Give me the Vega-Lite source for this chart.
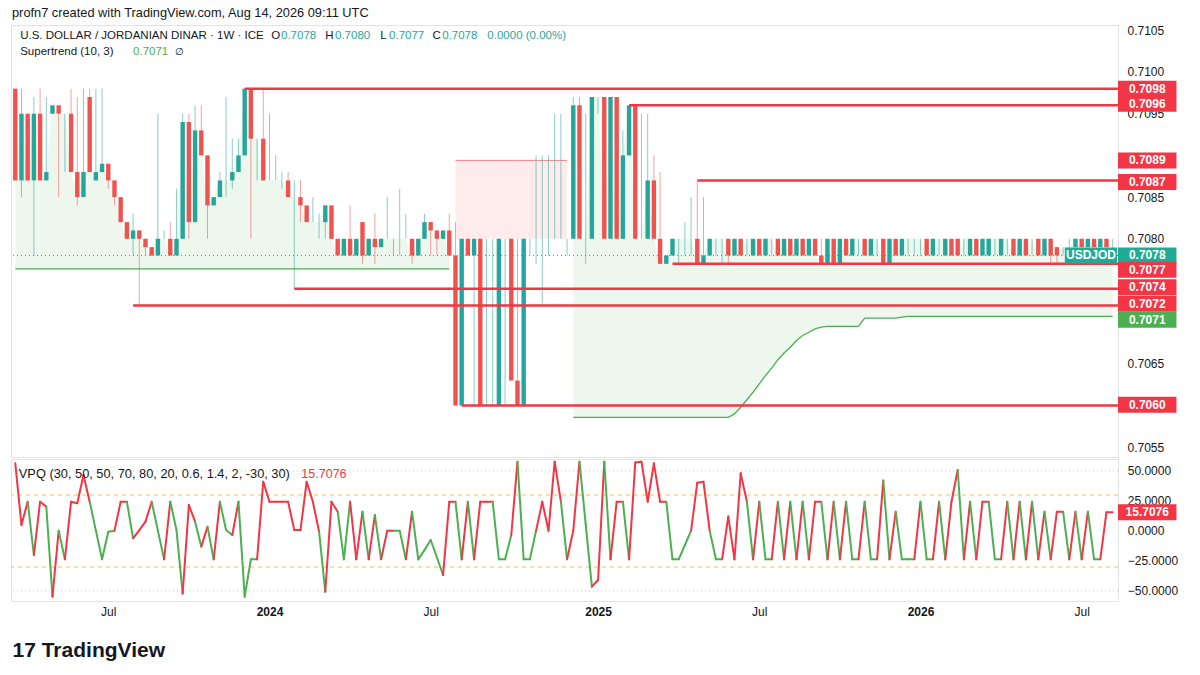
{
  "$schema": "https://vega.github.io/schema/vega-lite/v6.json",
  "background": "white",
  "padding": {"left": 10, "top": 6, "right": 0, "bottom": 0},
  "title": {"text": "profn7 created with TradingView.com, Aug 14, 2026 09:11 UTC", "anchor": "start", "fontSize": 12.8, "fontWeight": "normal", "color": "#131722", "offset": 4, "dx": 2},
  "spacing": 0,
  "data": {
    "format": {"parse": {"d": "date"}},
    "values": [
      {"d":"2023-03-20","o":0.7098,"h":0.7098,"l":0.7087,"c":0.7087,"v":56.4,"vc":"r","up":0.70764},
      {"d":"2023-03-27","o":0.7087,"h":0.7098,"l":0.7085,"c":0.7095,"v":5.0,"vc":"r","up":0.70764},
      {"d":"2023-04-03","o":0.7095,"h":0.7095,"l":0.7087,"c":0.7087,"v":24.4,"vc":"r","up":0.70764},
      {"d":"2023-04-10","o":0.7087,"h":0.7097,"l":0.7078,"c":0.7095,"v":-20.0,"vc":"g","up":0.70764},
      {"d":"2023-04-17","o":0.7095,"h":0.7098,"l":0.7087,"c":0.7087,"v":24.4,"vc":"r","up":0.70764},
      {"d":"2023-04-24","o":0.7087,"h":0.7097,"l":0.7087,"c":0.7088,"v":20.3,"vc":"r","up":0.70764},
      {"d":"2023-05-01","o":0.7095,"h":0.7096,"l":0.7095,"c":0.7096,"v":-54.7,"vc":"g","up":0.70764},
      {"d":"2023-05-08","o":0.7096,"h":0.7096,"l":0.7085,"c":0.7095,"v":0.3,"vc":"r","up":0.70764},
      {"d":"2023-05-15","o":0.7095,"h":0.7095,"l":0.7088,"c":0.7095,"v":-23.6,"vc":"g","up":0.70764},
      {"d":"2023-05-22","o":0.7095,"h":0.7098,"l":0.7088,"c":0.7088,"v":24.4,"vc":"r","up":0.70764},
      {"d":"2023-05-29","o":0.7088,"h":0.7097,"l":0.7084,"c":0.7085,"v":23.1,"vc":"r","up":0.70764},
      {"d":"2023-06-05","o":0.7085,"h":0.7098,"l":0.7085,"c":0.7088,"v":46.7,"vc":"r","up":0.70764},
      {"d":"2023-06-12","o":0.7097,"h":0.7098,"l":0.7088,"c":0.7088,"v":24.4,"vc":"r","up":0.70764},
      {"d":"2023-06-19","o":0.7087,"h":0.7098,"l":0.7087,"c":0.7088,"v":0.3,"vc":"g","up":0.70764},
      {"d":"2023-06-26","o":0.7088,"h":0.7098,"l":0.7088,"c":0.7089,"v":-23.6,"vc":"g","up":0.70764},
      {"d":"2023-07-03","o":0.7089,"h":0.7089,"l":0.7086,"c":0.7087,"v":-0.6,"vc":"g","up":0.70764},
      {"d":"2023-07-10","o":0.7087,"h":0.7087,"l":0.7084,"c":0.7085,"v":0.3,"vc":"g","up":0.70764},
      {"d":"2023-07-17","o":0.7085,"h":0.7085,"l":0.7082,"c":0.7082,"v":24.4,"vc":"r","up":0.70764},
      {"d":"2023-07-24","o":0.7082,"h":0.7082,"l":0.7080,"c":0.7080,"v":24.4,"vc":"r","up":0.70764},
      {"d":"2023-07-31","o":0.7080,"h":0.7083,"l":0.7078,"c":0.7081,"v":-6.1,"vc":"g","up":0.70764},
      {"d":"2023-08-07","o":0.7081,"h":0.7081,"l":0.7072,"c":0.7080,"v":0.8,"vc":"r","up":0.70764},
      {"d":"2023-08-14","o":0.7080,"h":0.7080,"l":0.7078,"c":0.7079,"v":7.8,"vc":"r","up":0.70764},
      {"d":"2023-08-21","o":0.7079,"h":0.7079,"l":0.7078,"c":0.7078,"v":24.4,"vc":"r","up":0.70764},
      {"d":"2023-08-28","o":0.7078,"h":0.7095,"l":0.7078,"c":0.7080,"v":0.3,"vc":"g","up":0.70764},
      {"d":"2023-09-04","o":0.7080,"h":0.7081,"l":0.7080,"c":0.7080,"v":-23.6,"vc":"g","up":0.70764},
      {"d":"2023-09-11","o":0.7080,"h":0.7082,"l":0.7078,"c":0.7078,"v":24.4,"vc":"r","up":0.70764},
      {"d":"2023-09-18","o":0.7078,"h":0.7086,"l":0.7078,"c":0.7080,"v":0.8,"vc":"g","up":0.70764},
      {"d":"2023-09-25","o":0.7080,"h":0.7095,"l":0.7080,"c":0.7094,"v":-52.0,"vc":"g","up":0.70764},
      {"d":"2023-10-02","o":0.7094,"h":0.7095,"l":0.7080,"c":0.7082,"v":21.7,"vc":"r","up":0.70764},
      {"d":"2023-10-09","o":0.7082,"h":0.7096,"l":0.7082,"c":0.7093,"v":7.8,"vc":"r","up":0.70764},
      {"d":"2023-10-16","o":0.7093,"h":0.7096,"l":0.7090,"c":0.7090,"v":-13.0,"vc":"g","up":0.70764},
      {"d":"2023-10-23","o":0.7090,"h":0.7090,"l":0.7080,"c":0.7084,"v":3.6,"vc":"r","up":0.70764},
      {"d":"2023-10-30","o":0.7084,"h":0.7085,"l":0.7084,"c":0.7085,"v":-23.6,"vc":"g","up":0.70764},
      {"d":"2023-11-06","o":0.7085,"h":0.7088,"l":0.7085,"c":0.7087,"v":24.4,"vc":"r","up":0.70764},
      {"d":"2023-11-13","o":0.7087,"h":0.7097,"l":0.7085,"c":0.7087,"v":0.8,"vc":"g","up":0.70764},
      {"d":"2023-11-20","o":0.7087,"h":0.7092,"l":0.7086,"c":0.7088,"v":-3.3,"vc":"g","up":0.70764},
      {"d":"2023-11-27","o":0.7088,"h":0.7092,"l":0.7088,"c":0.7090,"v":24.4,"vc":"r","up":0.70764},
      {"d":"2023-12-04","o":0.7090,"h":0.7098,"l":0.7090,"c":0.7098,"v":-54.7,"vc":"g","up":0.70764},
      {"d":"2023-12-11","o":0.7098,"h":0.7098,"l":0.7080,"c":0.7092,"v":-23.6,"vc":"g","up":0.70764},
      {"d":"2023-12-18","o":0.7092,"h":0.7092,"l":0.7087,"c":0.7092,"v":-23.6,"vc":"g","up":0.70764},
      {"d":"2023-12-25","o":0.7092,"h":0.7098,"l":0.7087,"c":0.7087,"v":41.1,"vc":"r","up":0.70764},
      {"d":"2024-01-01","o":0.7087,"h":0.7095,"l":0.7087,"c":0.7087,"v":24.4,"vc":"r","up":0.70764},
      {"d":"2024-01-08","o":0.7087,"h":0.7090,"l":0.7087,"c":0.7087,"v":24.4,"vc":"r","up":0.70764},
      {"d":"2024-01-15","o":0.7087,"h":0.7088,"l":0.7086,"c":0.7087,"v":24.4,"vc":"r","up":0.70764},
      {"d":"2024-01-22","o":0.7087,"h":0.7088,"l":0.7085,"c":0.7085,"v":24.4,"vc":"r","up":0.70764},
      {"d":"2024-01-29","o":0.7085,"h":0.7087,"l":0.7074,"c":0.7085,"v":0.8,"vc":"r","up":0.70764},
      {"d":"2024-02-05","o":0.7085,"h":0.7087,"l":0.7082,"c":0.7084,"v":0.8,"vc":"r","up":0.70764},
      {"d":"2024-02-12","o":0.7084,"h":0.7084,"l":0.7082,"c":0.7082,"v":41.1,"vc":"r","up":0.70764},
      {"d":"2024-02-19","o":0.7082,"h":0.7085,"l":0.7082,"c":0.7082,"v":24.4,"vc":"r","up":0.70764},
      {"d":"2024-02-26","o":0.7082,"h":0.7083,"l":0.7080,"c":0.7082,"v":-0.6,"vc":"r","up":0.70764},
      {"d":"2024-03-04","o":0.7082,"h":0.7084,"l":0.7080,"c":0.7084,"v":-50.6,"vc":"g","up":0.70764},
      {"d":"2024-03-11","o":0.7084,"h":0.7084,"l":0.7080,"c":0.7080,"v":24.4,"vc":"r","up":0.70764},
      {"d":"2024-03-18","o":0.7080,"h":0.7080,"l":0.7078,"c":0.7078,"v":16.1,"vc":"r","up":0.70764},
      {"d":"2024-03-25","o":0.7078,"h":0.7080,"l":0.7078,"c":0.7080,"v":-23.6,"vc":"g","up":0.70764},
      {"d":"2024-04-01","o":0.7080,"h":0.7084,"l":0.7078,"c":0.7078,"v":24.4,"vc":"g","up":0.70764},
      {"d":"2024-04-08","o":0.7078,"h":0.7080,"l":0.7078,"c":0.7080,"v":-23.6,"vc":"r","up":0.70764},
      {"d":"2024-04-15","o":0.7082,"h":0.7082,"l":0.7077,"c":0.7078,"v":16.1,"vc":"r","up":0.70764},
      {"d":"2024-04-22","o":0.7078,"h":0.7080,"l":0.7078,"c":0.7080,"v":-23.6,"vc":"g","up":0.70764},
      {"d":"2024-04-29","o":0.7080,"h":0.7083,"l":0.7077,"c":0.7079,"v":13.3,"vc":"r","up":0.70764},
      {"d":"2024-05-06","o":0.7079,"h":0.7080,"l":0.7079,"c":0.7080,"v":-23.6,"vc":"g","up":0.70764},
      {"d":"2024-05-13","o":0.7080,"h":0.7085,"l":0.7080,"c":0.7080,"v":0.3,"vc":"r","up":0.70764},
      {"d":"2024-05-20","o":0.7080,"h":0.7080,"l":0.7078,"c":0.7080,"v":0.3,"vc":"r","up":0.70764},
      {"d":"2024-05-27","o":0.7080,"h":0.7086,"l":0.7078,"c":0.7080,"v":0.3,"vc":"g","up":0.70764},
      {"d":"2024-06-03","o":0.7080,"h":0.7083,"l":0.7080,"c":0.7080,"v":-23.6,"vc":"g","up":0.70764},
      {"d":"2024-06-10","o":0.7080,"h":0.7080,"l":0.7077,"c":0.7078,"v":16.1,"vc":"r","up":0.70764},
      {"d":"2024-06-17","o":0.7078,"h":0.7080,"l":0.7078,"c":0.7080,"v":-23.6,"vc":"g","up":0.70764},
      {"d":"2024-06-24","o":0.7080,"h":0.7083,"l":0.7080,"c":0.7082,"v":-15.8,"vc":"g","up":0.70764},
      {"d":"2024-07-01","o":0.7082,"h":0.7082,"l":0.7078,"c":0.7081,"v":-7.5,"vc":"g","up":0.70764},
      {"d":"2024-07-08","o":0.7081,"h":0.7081,"l":0.7078,"c":0.7080,"v":-21.9,"vc":"g","up":0.70764},
      {"d":"2024-07-15","o":0.7080,"h":0.7081,"l":0.7080,"c":0.7081,"v":-36.7,"vc":"g","up":0.70764},
      {"d":"2024-07-22","o":0.7081,"h":0.7083,"l":0.7078,"c":0.7078,"v":24.4,"vc":"r","up":0.70764},
      {"d":"2024-07-29","o":0.7078,"h":0.7082,"l":0.7060,"c":0.7060,"v":24.4,"vc":"r","dn":0.70894},
      {"d":"2024-08-05","o":0.7060,"h":0.7080,"l":0.7060,"c":0.7080,"v":-23.6,"vc":"g","dn":0.70894},
      {"d":"2024-08-12","o":0.7080,"h":0.7080,"l":0.7078,"c":0.7078,"v":24.4,"vc":"r","dn":0.70894},
      {"d":"2024-08-19","o":0.7078,"h":0.7080,"l":0.7060,"c":0.7080,"v":-23.6,"vc":"g","dn":0.70894},
      {"d":"2024-08-26","o":0.7080,"h":0.7080,"l":0.7060,"c":0.7060,"v":24.4,"vc":"r","dn":0.70894},
      {"d":"2024-09-02","o":0.7080,"h":0.7080,"l":0.7060,"c":0.7080,"v":24.4,"vc":"r","dn":0.70894},
      {"d":"2024-09-09","o":0.7080,"h":0.7080,"l":0.7060,"c":0.7080,"v":24.4,"vc":"r","dn":0.70894},
      {"d":"2024-09-16","o":0.7060,"h":0.7080,"l":0.7060,"c":0.7080,"v":-23.6,"vc":"g","dn":0.70894},
      {"d":"2024-09-23","o":0.7080,"h":0.7080,"l":0.7060,"c":0.7080,"v":-23.6,"vc":"g","dn":0.70894},
      {"d":"2024-09-30","o":0.7080,"h":0.7080,"l":0.7063,"c":0.7063,"v":-3.3,"vc":"g","dn":0.70894},
      {"d":"2024-10-07","o":0.7063,"h":0.7080,"l":0.7060,"c":0.7060,"v":57.8,"vc":"r","dn":0.70894},
      {"d":"2024-10-14","o":0.7060,"h":0.7080,"l":0.7060,"c":0.7080,"v":-23.6,"vc":"g","dn":0.70894},
      {"d":"2024-10-21","o":0.7080,"h":0.7080,"l":0.7078,"c":0.7080,"v":-23.6,"vc":"g","dn":0.70894},
      {"d":"2024-10-28","o":0.7080,"h":0.7090,"l":0.7077,"c":0.7080,"v":0.3,"vc":"g","dn":0.70894},
      {"d":"2024-11-04","o":0.7080,"h":0.7090,"l":0.7072,"c":0.7080,"v":24.4,"vc":"r","dn":0.70894},
      {"d":"2024-11-11","o":0.7080,"h":0.7090,"l":0.7078,"c":0.7080,"v":0.3,"vc":"r","dn":0.70894},
      {"d":"2024-11-18","o":0.7080,"h":0.7095,"l":0.7080,"c":0.7080,"v":57.8,"vc":"r","dn":0.70894},
      {"d":"2024-11-25","o":0.7080,"h":0.7095,"l":0.7080,"c":0.7080,"v":24.4,"vc":"r","dn":0.70894},
      {"d":"2024-12-02","o":0.7080,"h":0.7080,"l":0.7078,"c":0.7080,"v":-23.6,"vc":"g","dn":0.70894},
      {"d":"2024-12-09","o":0.7080,"h":0.7097,"l":0.7080,"c":0.7096,"v":0.3,"vc":"r","up":0.70586},
      {"d":"2024-12-16","o":0.7096,"h":0.7097,"l":0.7080,"c":0.7080,"v":57.8,"vc":"r","up":0.70586},
      {"d":"2024-12-23","o":0.7080,"h":0.7095,"l":0.7077,"c":0.7080,"v":5.8,"vc":"g","up":0.70586},
      {"d":"2024-12-30","o":0.7080,"h":0.7097,"l":0.7080,"c":0.7097,"v":-46.4,"vc":"g","up":0.70586},
      {"d":"2025-01-06","o":0.7097,"h":0.7097,"l":0.7095,"c":0.7097,"v":-40.8,"vc":"r","up":0.70586},
      {"d":"2025-01-13","o":0.7097,"h":0.7097,"l":0.7080,"c":0.7080,"v":57.8,"vc":"r","up":0.70586},
      {"d":"2025-01-20","o":0.7080,"h":0.7097,"l":0.7080,"c":0.7097,"v":-23.6,"vc":"g","up":0.70586},
      {"d":"2025-01-27","o":0.7097,"h":0.7097,"l":0.7080,"c":0.7080,"v":24.4,"vc":"r","up":0.70586},
      {"d":"2025-02-03","o":0.7080,"h":0.7093,"l":0.7080,"c":0.7090,"v":24.4,"vc":"r","up":0.70586},
      {"d":"2025-02-10","o":0.7090,"h":0.7096,"l":0.7090,"c":0.7096,"v":-23.6,"vc":"g","up":0.70586},
      {"d":"2025-02-17","o":0.7096,"h":0.7096,"l":0.7080,"c":0.7080,"v":57.0,"vc":"r","up":0.70586},
      {"d":"2025-02-24","o":0.7080,"h":0.7095,"l":0.7080,"c":0.7080,"v":57.8,"vc":"r","up":0.70586},
      {"d":"2025-03-03","o":0.7080,"h":0.7095,"l":0.7080,"c":0.7087,"v":24.4,"vc":"r","up":0.70586},
      {"d":"2025-03-10","o":0.7087,"h":0.7090,"l":0.7080,"c":0.7080,"v":56.4,"vc":"r","up":0.70586},
      {"d":"2025-03-17","o":0.7080,"h":0.7088,"l":0.7077,"c":0.7077,"v":24.4,"vc":"r","up":0.70586},
      {"d":"2025-03-24","o":0.7077,"h":0.7078,"l":0.7077,"c":0.7078,"v":24.4,"vc":"r","up":0.70586},
      {"d":"2025-03-31","o":0.7078,"h":0.7080,"l":0.7078,"c":0.7080,"v":-23.6,"vc":"g","up":0.70586},
      {"d":"2025-04-07","o":0.7080,"h":0.7080,"l":0.7077,"c":0.7080,"v":-23.6,"vc":"g","up":0.70586},
      {"d":"2025-04-14","o":0.7080,"h":0.7082,"l":0.7078,"c":0.7080,"v":-11.7,"vc":"g","up":0.70586},
      {"d":"2025-04-21","o":0.7080,"h":0.7085,"l":0.7078,"c":0.7080,"v":0.3,"vc":"g","up":0.70586},
      {"d":"2025-04-28","o":0.7080,"h":0.7087,"l":0.7077,"c":0.7077,"v":40.3,"vc":"r","up":0.70586},
      {"d":"2025-05-05","o":0.7077,"h":0.7085,"l":0.7077,"c":0.7078,"v":41.1,"vc":"r","up":0.70586},
      {"d":"2025-05-12","o":0.7078,"h":0.7080,"l":0.7078,"c":0.7080,"v":0.3,"vc":"r","up":0.70586},
      {"d":"2025-05-19","o":0.7080,"h":0.7080,"l":0.7078,"c":0.7080,"v":-23.6,"vc":"g","up":0.70586},
      {"d":"2025-05-26","o":0.7080,"h":0.7080,"l":0.7077,"c":0.7080,"v":-23.6,"vc":"g","up":0.70586},
      {"d":"2025-06-02","o":0.7080,"h":0.7080,"l":0.7077,"c":0.7078,"v":12.0,"vc":"r","up":0.70586},
      {"d":"2025-06-09","o":0.7078,"h":0.7080,"l":0.7078,"c":0.7080,"v":-23.6,"vc":"r","up":0.70590},
      {"d":"2025-06-16","o":0.7080,"h":0.7080,"l":0.7078,"c":0.7078,"v":48.1,"vc":"r","up":0.70598},
      {"d":"2025-06-23","o":0.7080,"h":0.7080,"l":0.7078,"c":0.7080,"v":24.4,"vc":"r","up":0.70607},
      {"d":"2025-06-30","o":0.7078,"h":0.7080,"l":0.7078,"c":0.7080,"v":-23.6,"vc":"g","up":0.70616},
      {"d":"2025-07-07","o":0.7080,"h":0.7080,"l":0.7078,"c":0.7078,"v":24.4,"vc":"r","up":0.70626},
      {"d":"2025-07-14","o":0.7078,"h":0.7080,"l":0.7078,"c":0.7080,"v":-23.6,"vc":"g","up":0.70636},
      {"d":"2025-07-21","o":0.7080,"h":0.7080,"l":0.7078,"c":0.7080,"v":-23.6,"vc":"g","up":0.70645},
      {"d":"2025-07-28","o":0.7080,"h":0.7080,"l":0.7078,"c":0.7078,"v":24.4,"vc":"r","up":0.70655},
      {"d":"2025-08-04","o":0.7078,"h":0.7080,"l":0.7078,"c":0.7080,"v":-23.6,"vc":"g","up":0.70663},
      {"d":"2025-08-11","o":0.7080,"h":0.7080,"l":0.7078,"c":0.7078,"v":24.4,"vc":"r","up":0.70670},
      {"d":"2025-08-18","o":0.7078,"h":0.7080,"l":0.7078,"c":0.7080,"v":-23.6,"vc":"g","up":0.70678},
      {"d":"2025-08-25","o":0.7080,"h":0.7080,"l":0.7078,"c":0.7078,"v":24.4,"vc":"r","up":0.70684},
      {"d":"2025-09-01","o":0.7078,"h":0.7080,"l":0.7078,"c":0.7080,"v":-23.6,"vc":"g","up":0.70688},
      {"d":"2025-09-08","o":0.7080,"h":0.7080,"l":0.7078,"c":0.7078,"v":24.4,"vc":"r","up":0.70692},
      {"d":"2025-09-15","o":0.7078,"h":0.7080,"l":0.7077,"c":0.7077,"v":24.4,"vc":"r","up":0.70694},
      {"d":"2025-09-22","o":0.7077,"h":0.7080,"l":0.7077,"c":0.7080,"v":-23.6,"vc":"g","up":0.70695},
      {"d":"2025-09-29","o":0.7080,"h":0.7080,"l":0.7077,"c":0.7077,"v":24.4,"vc":"r","up":0.70695},
      {"d":"2025-10-06","o":0.7077,"h":0.7080,"l":0.7077,"c":0.7080,"v":-23.6,"vc":"g","up":0.70695},
      {"d":"2025-10-13","o":0.7080,"h":0.7080,"l":0.7078,"c":0.7078,"v":24.4,"vc":"r","up":0.70695},
      {"d":"2025-10-20","o":0.7078,"h":0.7080,"l":0.7078,"c":0.7080,"v":-23.6,"vc":"g","up":0.70695},
      {"d":"2025-10-27","o":0.7080,"h":0.7080,"l":0.7078,"c":0.7080,"v":-23.6,"vc":"g","up":0.70695},
      {"d":"2025-11-03","o":0.7080,"h":0.7080,"l":0.7078,"c":0.7078,"v":24.4,"vc":"r","up":0.70705},
      {"d":"2025-11-10","o":0.7078,"h":0.7080,"l":0.7078,"c":0.7080,"v":-23.6,"vc":"g","up":0.70705},
      {"d":"2025-11-17","o":0.7080,"h":0.7080,"l":0.7078,"c":0.7080,"v":-23.6,"vc":"g","up":0.70705},
      {"d":"2025-11-24","o":0.7080,"h":0.7080,"l":0.7077,"c":0.7077,"v":42.0,"vc":"r","up":0.70705},
      {"d":"2025-12-01","o":0.7077,"h":0.7080,"l":0.7077,"c":0.7080,"v":-23.6,"vc":"g","up":0.70705},
      {"d":"2025-12-08","o":0.7080,"h":0.7080,"l":0.7078,"c":0.7078,"v":16.1,"vc":"r","up":0.70705},
      {"d":"2025-12-15","o":0.7078,"h":0.7080,"l":0.7078,"c":0.7080,"v":-23.6,"vc":"g","up":0.70706},
      {"d":"2025-12-22","o":0.7080,"h":0.7080,"l":0.7078,"c":0.7080,"v":-23.6,"vc":"g","up":0.70707},
      {"d":"2025-12-29","o":0.7080,"h":0.7080,"l":0.7078,"c":0.7080,"v":-23.6,"vc":"g","up":0.70707},
      {"d":"2026-01-05","o":0.7080,"h":0.7080,"l":0.7078,"c":0.7080,"v":24.4,"vc":"r","up":0.70707},
      {"d":"2026-01-12","o":0.7080,"h":0.7080,"l":0.7078,"c":0.7078,"v":-23.6,"vc":"g","up":0.70707},
      {"d":"2026-01-19","o":0.7078,"h":0.7080,"l":0.7078,"c":0.7080,"v":-23.6,"vc":"g","up":0.70707},
      {"d":"2026-01-26","o":0.7080,"h":0.7080,"l":0.7078,"c":0.7080,"v":24.4,"vc":"r","up":0.70707},
      {"d":"2026-02-02","o":0.7078,"h":0.7080,"l":0.7078,"c":0.7080,"v":-23.6,"vc":"g","up":0.70707},
      {"d":"2026-02-09","o":0.7080,"h":0.7080,"l":0.7078,"c":0.7078,"v":24.4,"vc":"r","up":0.70707},
      {"d":"2026-02-16","o":0.7080,"h":0.7080,"l":0.7078,"c":0.7078,"v":50.8,"vc":"r","up":0.70707},
      {"d":"2026-02-23","o":0.7080,"h":0.7080,"l":0.7078,"c":0.7080,"v":-23.6,"vc":"g","up":0.70707},
      {"d":"2026-03-02","o":0.7078,"h":0.7080,"l":0.7078,"c":0.7080,"v":24.4,"vc":"r","up":0.70707},
      {"d":"2026-03-09","o":0.7080,"h":0.7080,"l":0.7078,"c":0.7078,"v":-23.6,"vc":"g","up":0.70707},
      {"d":"2026-03-16","o":0.7078,"h":0.7080,"l":0.7078,"c":0.7080,"v":24.4,"vc":"r","up":0.70707},
      {"d":"2026-03-23","o":0.7078,"h":0.7080,"l":0.7078,"c":0.7080,"v":24.4,"vc":"r","up":0.70707},
      {"d":"2026-03-30","o":0.7080,"h":0.7080,"l":0.7078,"c":0.7080,"v":-23.6,"vc":"g","up":0.70707},
      {"d":"2026-04-06","o":0.7078,"h":0.7080,"l":0.7078,"c":0.7080,"v":-23.6,"vc":"g","up":0.70707},
      {"d":"2026-04-13","o":0.7080,"h":0.7080,"l":0.7078,"c":0.7080,"v":24.4,"vc":"r","up":0.70707},
      {"d":"2026-04-20","o":0.7080,"h":0.7080,"l":0.7078,"c":0.7078,"v":-23.6,"vc":"g","up":0.70707},
      {"d":"2026-04-27","o":0.7078,"h":0.7080,"l":0.7078,"c":0.7080,"v":24.4,"vc":"r","up":0.70707},
      {"d":"2026-05-04","o":0.7080,"h":0.7080,"l":0.7078,"c":0.7078,"v":-23.6,"vc":"g","up":0.70707},
      {"d":"2026-05-11","o":0.7080,"h":0.7080,"l":0.7078,"c":0.7080,"v":24.4,"vc":"r","up":0.70707},
      {"d":"2026-05-18","o":0.7080,"h":0.7080,"l":0.7078,"c":0.7078,"v":-23.6,"vc":"g","up":0.70707},
      {"d":"2026-05-25","o":0.7078,"h":0.7080,"l":0.7078,"c":0.7080,"v":16.1,"vc":"r","up":0.70707},
      {"d":"2026-06-01","o":0.7080,"h":0.7080,"l":0.7077,"c":0.7078,"v":-23.6,"vc":"g","up":0.70707},
      {"d":"2026-06-08","o":0.7079,"h":0.7079,"l":0.7077,"c":0.7078,"v":16.1,"vc":"r","up":0.70707},
      {"d":"2026-06-15","o":0.7079,"h":0.7079,"l":0.7078,"c":0.7079,"v":16.1,"vc":"r","up":0.70707},
      {"d":"2026-06-22","o":0.7079,"h":0.7080,"l":0.7078,"c":0.7079,"v":-23.6,"vc":"g","up":0.70707},
      {"d":"2026-06-29","o":0.7079,"h":0.7080,"l":0.7079,"c":0.7080,"v":16.1,"vc":"r","up":0.70707},
      {"d":"2026-07-06","o":0.7080,"h":0.7080,"l":0.7079,"c":0.7079,"v":-23.6,"vc":"g","up":0.70707},
      {"d":"2026-07-13","o":0.7079,"h":0.7080,"l":0.7079,"c":0.7080,"v":16.1,"vc":"r","up":0.70707},
      {"d":"2026-07-20","o":0.7080,"h":0.7080,"l":0.7079,"c":0.7079,"v":-23.6,"vc":"g","up":0.70707},
      {"d":"2026-07-27","o":0.7079,"h":0.7080,"l":0.7079,"c":0.7080,"v":-23.6,"vc":"g","up":0.70707},
      {"d":"2026-08-03","o":0.7080,"h":0.7080,"l":0.7079,"c":0.7079,"v":15.7,"vc":"r","up":0.70707},
      {"d":"2026-08-10","o":0.7078,"h":0.7080,"l":0.7077,"c":0.7078,"v":15.7076,"vc":"r","up":0.70707}
    ]
  },
  "vconcat": [
    {
      "width": 1107,
      "height": 432,
      "layer": [
        {
          "mark": {"type": "area", "color": "#4caf50", "opacity": 0.1, "invalid": "break-paths-show-domains"},
          "encoding": {
            "x": {"field": "d", "type": "temporal", "axis": null, "scale": {"type": "utc", "padding": 0, "domain": [{"year": 2023, "month": 3, "date": 15, "hours": 4, "utc": true}, {"year": 2026, "month": 8, "date": 16, "utc": true}]}},
            "y": {"field": "up", "type": "quantitative", "title": null, "scale": {"domain": [0.7053837, 0.7105635], "zero": false, "nice": false},
                  "axis": {"orient": "right", "title": null, "values": [0.7055, 0.7065, 0.708, 0.7085, 0.7095, 0.71, 0.7105], "format": ".4f", "labelPadding": 9, "labelOverlap": false}},
            "y2": {"field": "c"}
          }
        },
        {
          "mark": {"type": "area", "color": "#f23645", "opacity": 0.1, "invalid": "break-paths-show-domains"},
          "encoding": {
            "x": {"field": "d", "type": "temporal", "axis": null},
            "y": {"field": "dn", "type": "quantitative", "title": null},
            "y2": {"datum": 0.708}
          }
        },
        {
          "mark": {"type": "line", "color": "#4caf50", "strokeWidth": 1.3, "invalid": "break-paths-show-domains"},
          "encoding": {
            "x": {"field": "d", "type": "temporal", "axis": null},
            "y": {"field": "up", "type": "quantitative", "title": null}
          }
        },
        {
          "mark": {"type": "line", "color": "#f23645", "strokeWidth": 1, "opacity": 0.6, "invalid": "break-paths-show-domains"},
          "encoding": {
            "x": {"field": "d", "type": "temporal", "axis": null},
            "y": {"field": "dn", "type": "quantitative", "title": null}
          }
        },
        {
          "data": {"values": [{}]},
          "mark": {"type": "rule", "color": "#26a69a", "strokeDash": [1, 3], "strokeWidth": 1},
          "encoding": {"y": {"datum": 0.7078, "type": "quantitative", "title": null}}
        },
        {
          "mark": {"type": "rule", "strokeWidth": 1, "opacity": 0.55},
          "encoding": {
            "x": {"field": "d", "type": "temporal", "axis": null},
            "y": {"field": "l", "type": "quantitative", "title": null},
            "y2": {"field": "h"},
            "color": {"condition": {"test": "datum.c < datum.o", "value": "#ef5350"}, "value": "#26a69a"}
          }
        },
        {
          "mark": {"type": "bar", "width": 4.4},
          "encoding": {
            "x": {"field": "d", "type": "temporal", "axis": null},
            "y": {"field": "o", "type": "quantitative", "title": null},
            "y2": {"field": "c"},
            "color": {"condition": {"test": "datum.c < datum.o", "value": "#ef5350"}, "value": "#26a69a"}
          }
        },
        {
          "data": {"values": [
            {"p": 0.7098, "from": "2023-12-04"},
            {"p": 0.7096, "from": "2025-02-10"},
            {"p": 0.7087, "from": "2025-04-28"},
            {"p": 0.7077, "from": "2025-03-31"},
            {"p": 0.7074, "from": "2024-01-29"},
            {"p": 0.7072, "from": "2023-07-31"},
            {"p": 0.706, "from": "2024-08-05"}
          ]},
          "mark": {"type": "rule", "color": "#f23645", "strokeWidth": 2.5},
          "encoding": {
            "x": {"field": "from", "type": "temporal", "axis": null},
            "x2": {"datum": {"year": 2026, "month": 8, "date": 16, "utc": true}},
            "y": {"field": "p", "type": "quantitative", "title": null}
          }
        },
        {
          "data": {"values": [
            {"t": "0.7098", "at": 0.7098, "k": "r"},
            {"t": "0.7096", "at": 0.70962, "k": "r"},
            {"t": "0.7089", "at": 0.70894, "k": "r"},
            {"t": "0.7087", "at": 0.70868, "k": "r"},
            {"t": "0.7078", "at": 0.7078, "k": "t"},
            {"t": "0.7077", "at": 0.70763, "k": "r"},
            {"t": "0.7074", "at": 0.70742, "k": "r"},
            {"t": "0.7072", "at": 0.70722, "k": "r"},
            {"t": "0.7071", "at": 0.70703, "k": "g"},
            {"t": "0.7060", "at": 0.70601, "k": "r"}
          ]},
          "layer": [
            {
              "mark": {"type": "rule", "strokeWidth": 16, "strokeCap": "butt"},
              "encoding": {
                "x": {"datum": {"year": 2026, "month": 8, "date": 16, "utc": true}, "type": "temporal", "axis": null},
                "x2": {"datum": {"year": 2026, "month": 10, "date": 21, "utc": true}},
                "y": {"field": "at", "type": "quantitative", "title": null},
                "color": {"field": "k", "type": "nominal", "legend": null, "scale": {"domain": ["r", "t", "g"], "range": ["#f23645", "#22ab94", "#4caf50"]}}
              }
            },
            {
              "mark": {"type": "text", "color": "white", "fontWeight": "bold", "fontSize": 12},
              "encoding": {
                "x": {"datum": {"year": 2026, "month": 9, "date": 18, "utc": true}, "type": "temporal", "axis": null},
                "y": {"field": "at", "type": "quantitative", "title": null},
                "text": {"field": "t"}
              }
            }
          ]
        },
        {
          "data": {"values": [{}]},
          "layer": [
            {
              "mark": {"type": "rule", "strokeWidth": 16, "strokeCap": "butt", "color": "#22ab94"},
              "encoding": {
                "x": {"datum": {"year": 2026, "month": 6, "date": 17, "utc": true}, "type": "temporal", "axis": null},
                "x2": {"datum": {"year": 2026, "month": 8, "date": 15, "utc": true}},
                "y": {"datum": 0.7078, "type": "quantitative", "title": null}
              }
            },
            {
              "mark": {"type": "text", "color": "white", "fontWeight": "bold", "fontSize": 12, "text": "USDJOD"},
              "encoding": {
                "x": {"datum": {"year": 2026, "month": 7, "date": 16, "hours": 12, "utc": true}, "type": "temporal", "axis": null},
                "y": {"datum": 0.7078, "type": "quantitative", "title": null}
              }
            },
            {
              "mark": {"type": "text", "align": "left", "fontSize": 11.5, "color": "#131722", "text": "U.S. DOLLAR / JORDANIAN DINAR · 1W · ICE"},
              "encoding": {
                "x": {"datum": {"year": 2023, "month": 3, "date": 25, "hours": 13, "utc": true}, "type": "temporal", "axis": null},
                "y": {"datum": 0.71043, "type": "quantitative", "title": null}
              }
            },
            {
              "mark": {"type": "text", "align": "left", "fontSize": 11.5, "color": "#131722", "text": "O"},
              "encoding": {
                "x": {"datum": {"year": 2024, "month": 1, "date": 3, "utc": true}, "type": "temporal", "axis": null},
                "y": {"datum": 0.71043, "type": "quantitative", "title": null}
              }
            },
            {
              "mark": {"type": "text", "align": "left", "fontSize": 11.5, "color": "#26a69a", "text": "0.7078"},
              "encoding": {
                "x": {"datum": {"year": 2024, "month": 1, "date": 14, "utc": true}, "type": "temporal", "axis": null},
                "y": {"datum": 0.71043, "type": "quantitative", "title": null}
              }
            },
            {
              "mark": {"type": "text", "align": "left", "fontSize": 11.5, "color": "#131722", "text": "H"},
              "encoding": {
                "x": {"datum": {"year": 2024, "month": 3, "date": 4, "utc": true}, "type": "temporal", "axis": null},
                "y": {"datum": 0.71043, "type": "quantitative", "title": null}
              }
            },
            {
              "mark": {"type": "text", "align": "left", "fontSize": 11.5, "color": "#26a69a", "text": "0.7080"},
              "encoding": {
                "x": {"datum": {"year": 2024, "month": 3, "date": 15, "utc": true}, "type": "temporal", "axis": null},
                "y": {"datum": 0.71043, "type": "quantitative", "title": null}
              }
            },
            {
              "mark": {"type": "text", "align": "left", "fontSize": 11.5, "color": "#131722", "text": "L"},
              "encoding": {
                "x": {"datum": {"year": 2024, "month": 5, "date": 5, "utc": true}, "type": "temporal", "axis": null},
                "y": {"datum": 0.71043, "type": "quantitative", "title": null}
              }
            },
            {
              "mark": {"type": "text", "align": "left", "fontSize": 11.5, "color": "#26a69a", "text": "0.7077"},
              "encoding": {
                "x": {"datum": {"year": 2024, "month": 5, "date": 15, "utc": true}, "type": "temporal", "axis": null},
                "y": {"datum": 0.71043, "type": "quantitative", "title": null}
              }
            },
            {
              "mark": {"type": "text", "align": "left", "fontSize": 11.5, "color": "#131722", "text": "C"},
              "encoding": {
                "x": {"datum": {"year": 2024, "month": 7, "date": 3, "utc": true}, "type": "temporal", "axis": null},
                "y": {"datum": 0.71043, "type": "quantitative", "title": null}
              }
            },
            {
              "mark": {"type": "text", "align": "left", "fontSize": 11.5, "color": "#26a69a", "text": "0.7078"},
              "encoding": {
                "x": {"datum": {"year": 2024, "month": 7, "date": 14, "utc": true}, "type": "temporal", "axis": null},
                "y": {"datum": 0.71043, "type": "quantitative", "title": null}
              }
            },
            {
              "mark": {"type": "text", "align": "left", "fontSize": 11.5, "color": "#26a69a", "text": "0.0000 (0.00%)"},
              "encoding": {
                "x": {"datum": {"year": 2024, "month": 9, "date": 3, "utc": true}, "type": "temporal", "axis": null},
                "y": {"datum": 0.71043, "type": "quantitative", "title": null}
              }
            },
            {
              "mark": {"type": "text", "align": "left", "fontSize": 11.5, "color": "#131722", "text": "Supertrend (10, 3)"},
              "encoding": {
                "x": {"datum": {"year": 2023, "month": 3, "date": 25, "hours": 13, "utc": true}, "type": "temporal", "axis": null},
                "y": {"datum": 0.71024, "type": "quantitative", "title": null}
              }
            },
            {
              "mark": {"type": "text", "align": "left", "fontSize": 11.5, "color": "#4caf50", "text": "0.7071"},
              "encoding": {
                "x": {"datum": {"year": 2023, "month": 7, "date": 31, "utc": true}, "type": "temporal", "axis": null},
                "y": {"datum": 0.71024, "type": "quantitative", "title": null}
              }
            },
            {
              "mark": {"type": "text", "align": "left", "fontSize": 10, "color": "#131722", "text": "∅"},
              "encoding": {
                "x": {"datum": {"year": 2023, "month": 9, "date": 16, "utc": true}, "type": "temporal", "axis": null},
                "y": {"datum": 0.71024, "type": "quantitative", "title": null}
              }
            }
          ]
        }
      ]
    },
    {
      "width": 1107,
      "height": 142,
      "title": {"text": "17 TradingView", "orient": "bottom", "anchor": "start", "fontSize": 21, "fontWeight": "bold", "color": "#131722", "offset": 23, "dx": 2},
      "layer": [
        {
          "data": {"values": [{}]},
          "layer": [
            {"mark": {"type": "rule", "color": "#f5c04a", "strokeDash": [4, 4], "strokeWidth": 1},
             "encoding": {"y": {"datum": 30, "type": "quantitative", "title": null, "scale": {"domain": [-58.33, 60], "zero": false, "nice": false},
                                "axis": {"orient": "right", "title": null, "labels": false}}}},
            {"mark": {"type": "rule", "color": "#f5c04a", "strokeDash": [4, 4], "strokeWidth": 1}, "encoding": {"y": {"datum": -30, "type": "quantitative", "title": null}}},
            {"mark": {"type": "rule", "color": "#c8ccd6", "strokeDash": [1, 3], "strokeWidth": 1}, "encoding": {"y": {"datum": 50, "type": "quantitative", "title": null}}},
            {"mark": {"type": "rule", "color": "#c8ccd6", "strokeDash": [1, 3], "strokeWidth": 1}, "encoding": {"y": {"datum": -50, "type": "quantitative", "title": null}}}
          ]
        },
        {
          "transform": [
            {"window": [{"op": "lag", "field": "v", "as": "pv"}, {"op": "lag", "field": "d", "as": "pd"}], "sort": [{"field": "d"}]},
            {"filter": "datum.pv != null"}
          ],
          "mark": {"type": "rule", "strokeWidth": 2, "strokeCap": "round"},
          "encoding": {
            "x": {"field": "pd", "type": "temporal", "title": null,
                  "scale": {"type": "utc", "padding": 0, "domain": [{"year": 2023, "month": 3, "date": 15, "hours": 4, "utc": true}, {"year": 2026, "month": 8, "date": 16, "utc": true}]},
                  "axis": {"title": null, "values": [
                    {"year": 2023, "month": 7, "date": 3, "utc": true},
                    {"year": 2024, "month": 1, "date": 1, "utc": true},
                    {"year": 2024, "month": 7, "date": 1, "utc": true},
                    {"year": 2025, "month": 1, "date": 6, "utc": true},
                    {"year": 2025, "month": 7, "date": 7, "utc": true},
                    {"year": 2026, "month": 1, "date": 5, "utc": true},
                    {"year": 2026, "month": 7, "date": 6, "utc": true}],
                    "labelExpr": "utcmonth(datum.value) == 0 ? utcFormat(datum.value, '%Y') : utcFormat(datum.value, '%b')",
                    "labelFontWeight": {"condition": {"test": "utcmonth(datum.value) == 0", "value": "bold"}, "value": "normal"},
                    "labelPadding": 5}},
            "x2": {"field": "d"},
            "y": {"field": "pv", "type": "quantitative", "title": null, "axis": {"orient": "right", "title": null, "labels": false}},
            "y2": {"field": "v"},
            "color": {"field": "vc", "type": "nominal", "legend": null, "scale": {"domain": ["r", "g"], "range": ["#ff1a1a", "#1ee51e"]}}
          }
        },
        {
          "data": {"values": [{"g": 50}, {"g": 25}, {"g": 0}, {"g": -25}, {"g": -50}]},
          "mark": {"type": "text", "align": "left", "fontSize": 12, "color": "#131722"},
          "encoding": {
            "x": {"datum": {"year": 2026, "month": 8, "date": 27, "utc": true}, "type": "temporal", "title": null},
            "y": {"field": "g", "type": "quantitative", "title": null},
            "text": {"field": "g", "type": "quantitative", "format": ".4f"}
          }
        },
        {
          "data": {"values": [{}]},
          "layer": [
            {
              "mark": {"type": "text", "align": "left", "fontSize": 12.8, "color": "#131722", "text": "VPQ (30, 50, 50, 70, 80, 20, 0.6, 1.4, 2, -30, 30)"},
              "encoding": {
                "x": {"datum": {"year": 2023, "month": 3, "date": 24, "utc": true}, "type": "temporal", "title": null},
                "y": {"datum": 47.5, "type": "quantitative", "title": null}
              }
            },
            {
              "mark": {"type": "text", "align": "left", "fontSize": 12.5, "color": "#f23645", "text": "15.7076"},
              "encoding": {
                "x": {"datum": {"year": 2024, "month": 2, "date": 6, "utc": true}, "type": "temporal", "title": null},
                "y": {"datum": 47.5, "type": "quantitative", "title": null}
              }
            },
            {
              "mark": {"type": "rule", "strokeWidth": 16, "strokeCap": "butt", "color": "#f23645"},
              "encoding": {
                "x": {"datum": {"year": 2026, "month": 8, "date": 16, "utc": true}, "type": "temporal", "title": null},
                "x2": {"datum": {"year": 2026, "month": 10, "date": 21, "utc": true}},
                "y": {"datum": 15.7076, "type": "quantitative", "title": null}
              }
            },
            {
              "mark": {"type": "text", "color": "white", "fontWeight": "bold", "fontSize": 12, "text": "15.7076"},
              "encoding": {
                "x": {"datum": {"year": 2026, "month": 9, "date": 18, "utc": true}, "type": "temporal", "title": null},
                "y": {"datum": 15.7076, "type": "quantitative", "title": null}
              }
            }
          ]
        }
      ]
    }
  ],
  "config": {
    "font": "Liberation Sans",
    "view": {"stroke": "#e0e3eb"},
    "axis": {"labelColor": "#131722", "labelFontSize": 12, "ticks": false, "domain": false, "grid": false, "labelOverlap": false}
  }
}
